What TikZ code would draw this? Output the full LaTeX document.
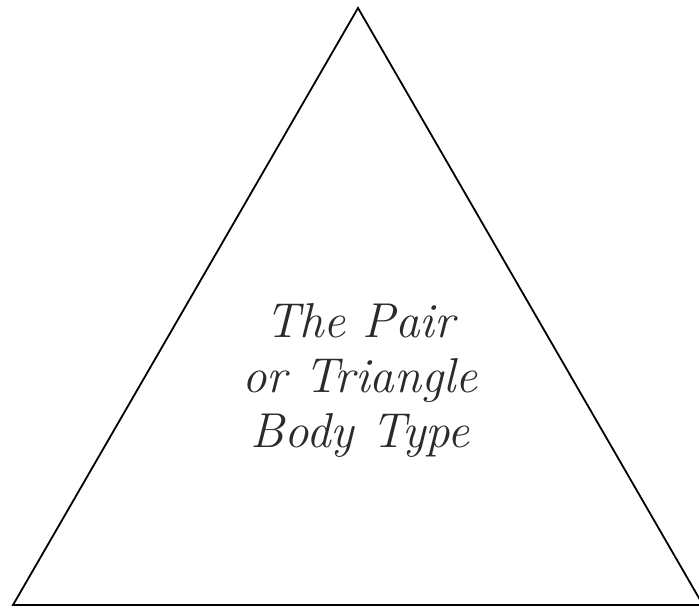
\documentclass[tikz,border=0pt]{standalone}
\usepackage{fontspec}
\definecolor{txt}{HTML}{2B2B2B}
\begin{document}
\begin{tikzpicture}[x=1pt,y=-1pt,
  tri/.style={draw=black,line width=1.8pt,line join=miter},
  lbl/.style={align=center,text=txt,font=\itshape\addfontfeature{LetterSpace=6}\fontsize{49}{55}\selectfont}]
\useasboundingbox (0,0) rectangle (699,612);
\coordinate (A) at (358,8);
\coordinate (B) at (13,605);
\coordinate (C) at (703,605);
\draw[tri] (A) -- (B) -- (C) -- cycle;
\node[lbl] (t) at (360,380) {The Pair\\or Triangle\\Body Type};
\end{tikzpicture}
\end{document}
